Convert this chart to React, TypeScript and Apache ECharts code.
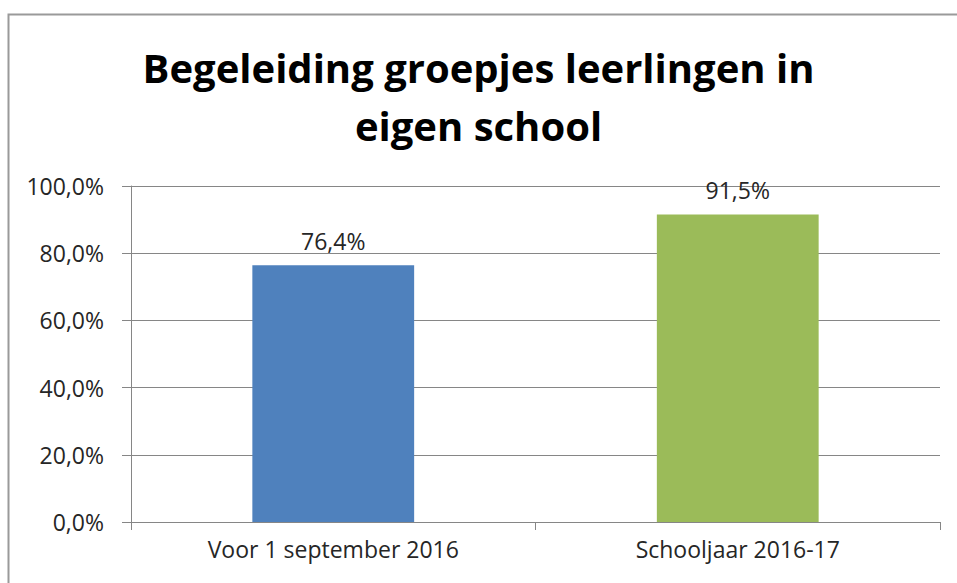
import React, { useEffect, useRef } from "react";
import * as echarts from "echarts";

const titleText = "Begeleiding groepjes leerlingen in\neigen school";
const categories = ["Voor 1 september 2016", "Schooljaar 2016-17"];
const values = [76.4, 91.5];
const barColors = ["#4F81BD", "#9BBB59"];
const yTicks = { min: 0, max: 100, interval: 20 };

const fmt = (v: number) => v.toFixed(1).replace(".", ",") + "%";

export default function App() {
  const ref = useRef<HTMLDivElement>(null);
  useEffect(() => {
    if (!ref.current) return;
    const chart = echarts.init(ref.current, undefined, { renderer: "svg" });
    const font = "'Open Sans', 'Noto Sans', sans-serif";
    chart.setOption({
      animation: false,
      backgroundColor: "#ffffff",
      title: {
        text: titleText,
        left: "center",
        top: 33,
        textStyle: {
          fontFamily: font,
          fontSize: 40,
          fontWeight: "bold",
          color: "#000000",
          lineHeight: 58,
        },
      },
      graphic: [
        {
          type: "rect",
          shape: { x: 8.5, y: 14.5, width: 1200, height: 1200 },
          style: { fill: "none", stroke: "#9a9a9a", lineWidth: 2 },
          silent: true,
        },
      ],
      grid: { left: 131, right: 17, top: 186, bottom: 61 },
      xAxis: {
        type: "category",
        data: categories,
        axisLine: { show: true, lineStyle: { color: "#868686", width: 1 } },
        axisTick: { show: true, alignWithLabel: false, length: 8, lineStyle: { color: "#868686" } },
        axisLabel: { color: "#262626", fontFamily: font, fontSize: 23, margin: 15 },
      },
      yAxis: {
        type: "value",
        min: yTicks.min,
        max: yTicks.max,
        interval: yTicks.interval,
        axisLine: { show: true, lineStyle: { color: "#868686", width: 1 } },
        axisTick: { show: true, length: 9, lineStyle: { color: "#868686" } },
        axisLabel: {
          color: "#262626",
          fontFamily: font,
          fontSize: 23,
          margin: 27,
          formatter: (v: number) => fmt(v),
        },
        splitLine: { show: true, lineStyle: { color: "#868686", width: 1 } },
      },
      series: [
        {
          type: "bar",
          data: values.map((v, i) => ({ value: v, itemStyle: { color: barColors[i] } })),
          barWidth: "40%",
          label: {
            show: true,
            position: "top",
            distance: 13,
            color: "#262626",
            fontFamily: font,
            fontSize: 23,
            formatter: (p: any) => fmt(p.value),
          },
        },
      ],
    });
    return () => chart.dispose();
  }, []);
  return (
    <div
      ref={ref}
      style={{ position: "fixed", left: 0, top: 0, width: 957, height: 583 }}
    />
  );
}
